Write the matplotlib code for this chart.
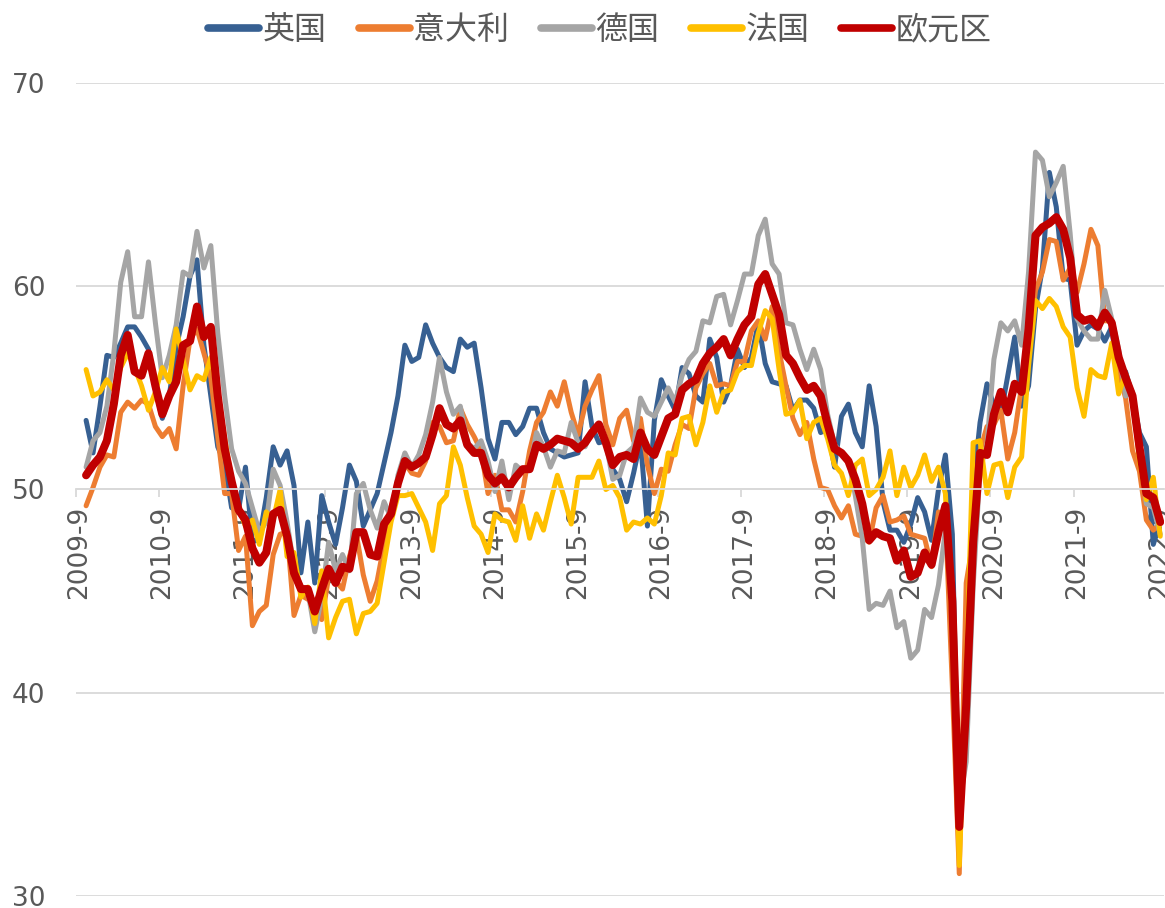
import numpy as np
import pandas as pd
import matplotlib
matplotlib.use("Agg")
import matplotlib.pyplot as plt

# ---------------- data (monthly manufacturing PMI, 2009-10 .. 2022-09) ----------------
months = [p.strftime("%Y-%m") for p in pd.period_range("2009-10", "2022-09", freq="M")]
category_axis = ["2009-09"] + months          # axis starts at 2009-9 (empty first category)
tick_labels = ["2009-9", "2010-9", "2011-9", "2012-9", "2013-9", "2014-9", "2015-9",
               "2016-9", "2017-9", "2018-9", "2019-9", "2020-9", "2021-9", "2022-9"]

uk = [53.4, 51.8, 54.1,
      56.6, 56.5, 57.2, 58.0, 58.0, 57.5, 56.9, 54.9, 53.5, 54.6, 57.0, 58.5,
      60.5, 61.3, 57.1, 54.6, 52.1, 51.3, 49.1, 49.0, 51.1, 47.4, 47.6, 49.6,
      52.1, 51.2, 51.9, 50.2, 45.9, 48.4, 45.4, 49.7, 48.4, 47.3, 49.1, 51.2,
      50.4, 48.2, 49.0, 49.8, 51.3, 52.8, 54.6, 57.1, 56.3, 56.5, 58.1, 57.2,
      56.5, 56.0, 55.8, 57.4, 57.0, 57.2, 55.0, 52.5, 51.5, 53.3, 53.3, 52.7,
      53.1, 54.0, 54.0, 52.8, 52.0, 51.8, 51.6, 51.7, 51.8, 55.3, 53.1, 52.3,
      52.4, 51.0, 50.5, 49.4, 50.8, 52.4, 48.2, 53.4, 55.4, 54.6, 53.9, 56.0,
      55.7, 54.6, 54.3, 57.4, 56.5, 54.3, 55.1, 56.9, 56.0, 56.5, 58.2, 56.2,
      55.3, 55.2, 55.1, 53.9, 54.4, 54.4, 54.0, 52.8, 53.0, 51.1, 53.6, 54.2,
      52.8, 52.1, 55.1, 53.1, 49.4, 48.0, 48.0, 47.4, 48.3, 49.6, 48.9, 47.5,
      50.0, 51.7, 47.8, 32.6, 40.7, 50.1, 53.3, 55.2, 54.1, 53.7, 55.6, 57.5,
      54.1, 55.1, 58.9, 60.9, 65.6, 63.9, 60.4, 60.3, 57.1, 57.8, 58.1, 57.9,
      57.3, 58.0, 55.2, 55.8, 54.6, 52.8, 52.1, 47.3, 48.4]

italy = [49.2, 50.1, 51.1,
         51.7, 51.6, 53.8, 54.3, 54.0, 54.4, 54.2, 53.1, 52.6, 53.0, 52.0, 55.1,
         57.4, 57.9, 56.7, 55.5, 52.6, 49.8, 49.8, 47.0, 47.7, 43.3, 44.0, 44.3,
         46.8, 47.8, 47.9, 43.8, 44.8, 44.6, 44.3, 43.6, 45.7, 45.5, 45.1, 46.7,
         47.8, 45.8, 44.5, 45.5, 47.3, 49.1, 50.4, 51.3, 50.8, 50.7, 51.4, 53.3,
         53.1, 52.3, 52.4, 54.0, 53.2, 52.6, 51.9, 49.8, 50.7, 49.0, 49.0, 48.4,
         49.9, 51.9, 53.3, 53.8, 54.8, 54.1, 55.3, 53.8, 52.7, 54.1, 54.9, 55.6,
         53.2, 52.2, 53.5, 53.9, 52.4, 53.5, 51.2, 49.8, 51.0, 50.9, 52.2, 53.2,
         53.0, 55.0, 55.7, 56.2, 55.1, 55.2, 55.1, 56.3, 56.3, 57.8, 58.3, 57.4,
         59.0, 56.8, 55.1, 53.5, 52.7, 53.3, 51.5, 50.1, 50.0, 49.2, 48.6, 49.2,
         47.8, 47.7, 47.4, 49.1, 49.7, 48.4, 48.5, 48.7, 47.8, 47.7, 47.6, 46.2,
         48.9, 48.7, 40.3, 31.1, 45.4, 47.5, 51.9, 53.1, 53.2, 53.9, 51.5, 52.8,
         55.1, 56.9, 59.8, 60.7, 62.3, 62.2, 60.3, 60.9, 59.7, 61.1, 62.8, 62.0,
         58.3, 58.3, 55.8, 54.5, 51.9, 50.9, 48.5, 48.0, 48.3]

germany = [51.1, 52.4, 52.8,
           54.1, 56.7, 60.2, 61.7, 58.5, 58.5, 61.2, 58.2, 55.5, 56.6, 58.1, 60.7,
           60.5, 62.7, 60.9, 62.0, 57.7, 54.6, 52.0, 50.9, 50.3, 49.1, 47.9, 48.4,
           51.0, 50.2, 48.4, 46.2, 45.2, 45.0, 43.0, 44.7, 47.4, 46.0, 46.8, 46.0,
           49.8, 50.3, 49.0, 48.1, 49.4, 48.6, 50.7, 51.8, 51.1, 51.7, 52.7, 54.3,
           56.5, 54.8, 53.7, 54.1, 52.3, 52.0, 52.4, 51.4, 49.9, 51.4, 49.5, 51.2,
           50.9, 51.1, 52.8, 52.1, 51.1, 51.9, 51.8, 53.3, 52.3, 52.1, 52.9, 53.2,
           52.3, 50.5, 50.7, 51.8, 52.1, 54.5, 53.8, 53.6, 54.3, 55.0, 54.3, 55.6,
           56.4, 56.8, 58.3, 58.2, 59.5, 59.6, 58.1, 59.3, 60.6, 60.6, 62.5, 63.3,
           61.1, 60.6, 58.2, 58.1, 56.9, 55.9, 56.9, 55.9, 53.7, 52.2, 51.8, 51.5,
           49.7, 47.6, 44.1, 44.4, 44.3, 45.0, 43.2, 43.5, 41.7, 42.1, 44.1, 43.7,
           45.3, 48.0, 45.4, 34.5, 36.6, 45.2, 51.0, 52.2, 56.4, 58.2, 57.8, 58.3,
           57.1, 60.7, 66.6, 66.2, 64.4, 65.1, 65.9, 62.6, 58.4, 57.8, 57.4, 57.4,
           59.8, 58.4, 56.9, 54.6, 54.8, 52.0, 49.3, 49.1, 47.8]

france = [55.9, 54.6, 54.8,
          55.4, 54.9, 56.0, 56.7, 56.0, 55.1, 53.9, 54.8, 56.0, 55.3, 57.9, 56.4,
          54.9, 55.6, 55.4, 56.5, 54.7, 52.5, 50.5, 49.1, 48.2, 48.5, 47.3, 48.9,
          48.5, 50.0, 46.7, 46.9, 44.7, 45.2, 43.4, 46.0, 42.7, 43.7, 44.5, 44.6,
          42.9, 43.9, 44.0, 44.4, 46.4, 48.4, 49.7, 49.7, 49.8, 49.1, 48.4, 47.0,
          49.3, 49.7, 52.1, 51.2, 49.6, 48.2, 47.8, 46.9, 48.8, 48.5, 48.4, 47.5,
          49.2, 47.6, 48.8, 48.0, 49.4, 50.7, 49.6, 48.3, 50.6, 50.6, 50.6, 51.4,
          50.0, 50.2, 49.6, 48.0, 48.4, 48.3, 48.6, 48.3, 49.7, 51.8, 51.7, 53.5,
          53.6, 52.2, 53.3, 55.1, 53.8, 54.8, 54.9, 55.8, 56.1, 56.1, 57.7, 58.8,
          58.4, 55.9, 53.7, 53.8, 54.4, 52.5, 53.3, 53.5, 52.5, 51.2, 50.8, 49.7,
          51.2, 51.5, 49.7, 50.0, 50.6, 51.9, 49.7, 51.1, 50.1, 50.7, 51.7, 50.4,
          51.1, 49.8, 43.2, 31.5, 40.6, 52.3, 52.4, 49.8, 51.2, 51.3, 49.6, 51.1,
          51.6, 56.1, 59.3, 58.9, 59.4, 59.0, 58.0, 57.5, 55.0, 53.6, 55.9, 55.6,
          55.5, 57.2, 54.7, 55.7, 54.6, 51.4, 49.5, 50.6, 47.7]

eurozone = [50.7, 51.2, 51.6,
            52.4, 54.2, 56.6, 57.6, 55.8, 55.6, 56.7, 55.1, 53.7, 54.6, 55.3, 57.1,
            57.3, 59.0, 57.5, 58.0, 54.6, 52.0, 50.4, 49.0, 48.5, 47.1, 46.4, 46.9,
            48.8, 49.0, 47.7, 45.9, 45.1, 45.1, 44.0, 45.1, 46.1, 45.4, 46.2, 46.1,
            47.9, 47.9, 46.8, 46.7, 48.3, 48.8, 50.3, 51.4, 51.1, 51.3, 51.6, 52.7,
            54.0, 53.2, 53.0, 53.4, 52.2, 51.8, 51.8, 50.7, 50.3, 50.6, 50.1, 50.6,
            51.0, 51.0, 52.2, 52.0, 52.2, 52.5, 52.4, 52.3, 52.0, 52.3, 52.8, 53.2,
            52.3, 51.2, 51.6, 51.7, 51.5, 52.8, 52.0, 51.7, 52.6, 53.5, 53.7, 54.9,
            55.2, 55.4, 56.2, 56.7, 57.0, 57.4, 56.6, 57.4, 58.1, 58.5, 60.1, 60.6,
            59.6, 58.6, 56.6, 56.2, 55.5, 54.9, 55.1, 54.6, 53.2, 52.0, 51.8, 51.4,
            50.5, 49.3, 47.5, 47.9, 47.7, 47.6, 46.5, 47.0, 45.7, 45.9, 46.9, 46.3,
            47.9, 49.2, 44.5, 33.4, 39.4, 47.4, 51.8, 51.7, 53.7, 54.8, 53.8, 55.2,
            54.8, 57.9, 62.5, 62.9, 63.1, 63.4, 62.8, 61.4, 58.6, 58.3, 58.4, 58.0,
            58.7, 58.2, 56.5, 55.5, 54.6, 52.1, 49.8, 49.6, 48.4]

series_names = ["英国", "意大利", "德国", "法国", "欧元区"]
series_values = [uk, italy, germany, france, eurozone]
series_colors = ["#376092", "#ED7D31", "#A5A5A5", "#FFC000", "#C00000"]
series_widths = [3.6, 3.6, 3.6, 3.6, 5.8]

# ---------------- figure ----------------
W, H = 1165, 908
fig = plt.figure(figsize=(W / 100, H / 100), dpi=100)
left_px, right_px, top_px, bot_px = 75.7, 1163.7, 83, 896
ax = fig.add_axes([left_px / W, (H - bot_px) / H, (right_px - left_px) / W, (bot_px - top_px) / H])

pos = {c: i for i, c in enumerate(category_axis)}
x = np.array([pos[m] for m in months])

handles = []
for name, vals, col, lw in zip(series_names, series_values, series_colors, series_widths):
    h, = ax.plot(x, vals, color=col, lw=lw, solid_joinstyle="round", solid_capstyle="round", label=name)
    handles.append(h)

ax.set_xlim(-0.5, len(category_axis) - 0.5)
ax.set_ylim(30, 70)
ax.set_yticks([30, 40, 50, 60, 70])
ax.yaxis.grid(True, color="#D9D9D9", lw=1.3)
ax.set_axisbelow(True)

grid_col = "#D9D9D9"
txt_col = "#595959"
for s in ["left", "top", "right"]:
    ax.spines[s].set_visible(False)
ax.spines["bottom"].set_position(("data", 50))
ax.spines["bottom"].set_color(grid_col)
ax.spines["bottom"].set_linewidth(1.3)

tick_pos = [pos[t.split("-")[0] + "-09"] for t in tick_labels]
ax.set_xticks(tick_pos)
ax.set_xticklabels(tick_labels, rotation=90, fontsize=19, color=txt_col, family="DejaVu Sans")
ax.set_xticks(np.array(tick_pos) - 0.5, minor=True)
ax.tick_params(axis="x", which="major", length=0, pad=12)
ax.tick_params(axis="x", which="minor", length=6, width=1.3, color=grid_col, direction="out")
ax.tick_params(axis="y", length=0, pad=22, labelsize=19, labelcolor=txt_col)
for t in ax.get_yticklabels():
    t.set_family("DejaVu Sans")

leg = fig.legend(handles=handles, labels=series_names, loc="center", bbox_to_anchor=(0.5150, 0.967),
                 ncol=5, frameon=False, handlelength=1.6, handletextpad=0.1, columnspacing=1.0,
                 prop={"family": ["Noto Sans CJK SC", "DejaVu Sans"], "size": 23})
for t in leg.get_texts():
    t.set_color(txt_col)
for lh in leg.get_lines():
    lh.set_linewidth(5.5)

fig.savefig("out.png", dpi=100)
